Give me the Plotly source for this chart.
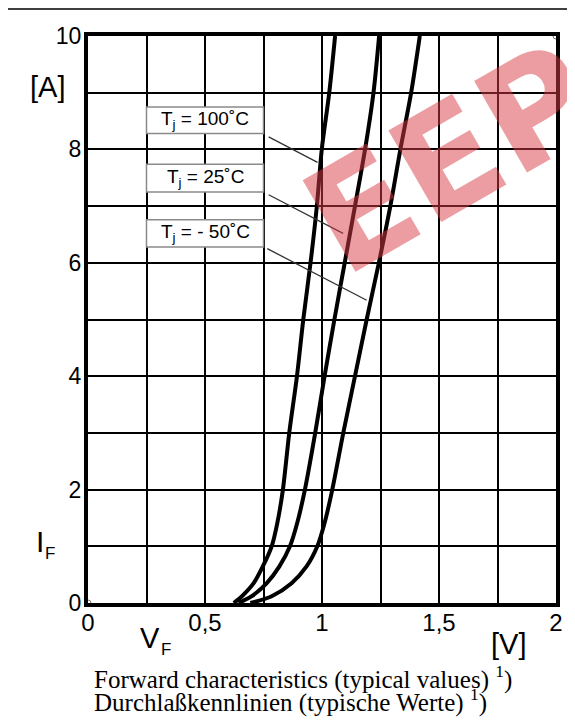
import plotly.graph_objects as go

# ---- data ----
I_F = [0, 0.12, 0.35, 0.645, 1, 1.41, 2, 3, 4, 5, 6, 7, 8, 9, 10]
V_100 = [0.623, 0.658, 0.708, 0.747, 0.785, 0.809, 0.833, 0.860, 0.893, 0.920, 0.951, 0.978, 0.999, 1.031, 1.056]
V_25 = [0.644, 0.700, 0.764, 0.818, 0.863, 0.894, 0.927, 0.971, 1.011, 1.053, 1.097, 1.141, 1.184, 1.220, 1.244]
V_M50 = [0.694, 0.785, 0.870, 0.934, 0.980, 1.011, 1.044, 1.091, 1.141, 1.191, 1.243, 1.292, 1.335, 1.381, 1.418]

X_TICKS = [0, 0.25, 0.5, 0.75, 1, 1.25, 1.5, 1.75, 2]
X_LABELS = ["0", "", "0,5", "", "1", "", "1,5", "", "2"]
Y_TICKS = [0, 1, 2, 3, 4, 5, 6, 7, 8, 9, 10]
Y_LABELS = ["0", "", "2", "", "4", "", "6", "", "8", "", "10"]

LABELS = ["T<sub>j</sub> = 100˚C", "T<sub>j</sub> = 25˚C", "T<sub>j</sub> = - 50˚C"]
CAPTION = ["Forward characteristics (typical values) <sup>1</sup>)",
           "Durchlaßkennlinien (typische Werte) <sup>1</sup>)"]

SANS = "Liberation Sans, Arial, sans-serif"
SERIF = "Liberation Serif, Times New Roman, serif"

fig = go.Figure()
for vs in [V_100, V_25, V_M50]:
    fig.add_trace(go.Scatter(x=vs, y=I_F, mode="lines",
                             line=dict(color="black", width=4, shape="spline", smoothing=0.8),
                             showlegend=False, hoverinfo="skip"))

# page has an 8px body margin; figure sized so the plot area lands where the reference has it
W, H = 567, 712
L, R, T, B = 80, 17, 28, 117
PW, PH = W - L - R, H - T - B
PX0, PY0 = 88, 36  # plot area top-left in page pixels


def pu(px):
    return (px - PX0) / PW


def pv(py):
    return 1 - (py - PY0) / PH


shapes = []
# outer frame
shapes.append(dict(type="rect", xref="paper", yref="paper",
                   x0=pu(5.5), x1=pu(600), y0=pv(760), y1=pv(9),
                   line=dict(color="black", width=1.5), fillcolor="rgba(0,0,0,0)", layer="below"))
# label boxes
box_y = [(8.28, 8.75), (7.25, 7.74), (6.28, 6.76)]
for y0, y1 in box_y:
    shapes.append(dict(type="rect", xref="x", yref="y", x0=0.25, x1=0.75, y0=y0, y1=y1,
                       line=dict(color="#8a8a8a", width=1.5), fillcolor="white"))
# pointer lines
pointers = [((0.772, 8.22), (0.981, 7.77)),
            ((0.772, 7.20), (1.090, 6.52)),
            ((0.766, 6.25), (1.191, 5.34))]
for (xa, ya), (xb, yb) in pointers:
    shapes.append(dict(type="line", xref="x", yref="y", x0=xa, y0=ya, x1=xb, y1=yb,
                       line=dict(color="#333333", width=1.3)))
# small corner circles
for cx, cy in [(0, 0), (2, 10)]:
    shapes.append(dict(type="circle", xref="x", yref="y", xsizemode="pixel", ysizemode="pixel",
                       xanchor=cx, yanchor=cy, x0=-3, x1=3, y0=-3, y1=3,
                       line=dict(color="#777777", width=1), fillcolor="white"))


def txt(px, py, text, size, family=SANS, xanchor="center", **kw):
    return dict(x=pu(px), y=pv(py), xref="paper", yref="paper", text=text, showarrow=False,
                xanchor=xanchor, yanchor="middle", font=dict(family=family, size=size,
                                                             color=kw.pop("color", "black")), **kw)


ann = []
for t, (y0, y1) in zip(LABELS, box_y):
    ann.append(dict(x=0.5, y=(y0 + y1) / 2, xref="x", yref="y", text=t, showarrow=False,
                    xanchor="center", yanchor="middle",
                    font=dict(family=SANS, size=19, color="black")))

ann += [
    txt(47.5, 87, "[A]", 29),
    txt(40, 541, "I", 30),
    txt(49.5, 553, "F", 17),
    txt(150, 638, "V", 29),
    txt(166.5, 649, "F", 17),
    txt(510, 644, "[V]", 29),
    txt(92, 677.5, CAPTION[0], 25, family=SERIF, xanchor="left"),
    txt(92, 700, CAPTION[1], 25, family=SERIF, xanchor="left"),
    # watermark
    txt(452, 158, "<b>EEP</b>", 145, family="DejaVu Sans", textangle=-30,
        color="rgba(215,60,70,0.5)"),
]

axis_common = dict(showgrid=True, gridcolor="black", gridwidth=2, showline=True, linecolor="black",
                   linewidth=4, mirror=True, zeroline=False, ticks="", ticklen=0, fixedrange=True)

fig.update_layout(
    width=W, height=H, margin=dict(l=L, r=R, t=T, b=B),
    paper_bgcolor="white", plot_bgcolor="white",
    xaxis=dict(range=[0, 2], tickmode="array", tickvals=X_TICKS, ticktext=X_LABELS,
               tickfont=dict(family=SANS, size=24, color="black"), ticklabelstandoff=-5, **axis_common),
    yaxis=dict(range=[0, 10], tickmode="array", tickvals=Y_TICKS, ticktext=Y_LABELS,
               tickfont=dict(family=SANS, size=23, color="black"), ticklabelstandoff=-2, **axis_common),
    shapes=shapes, annotations=ann,
)

fig.write_html("out.html")
